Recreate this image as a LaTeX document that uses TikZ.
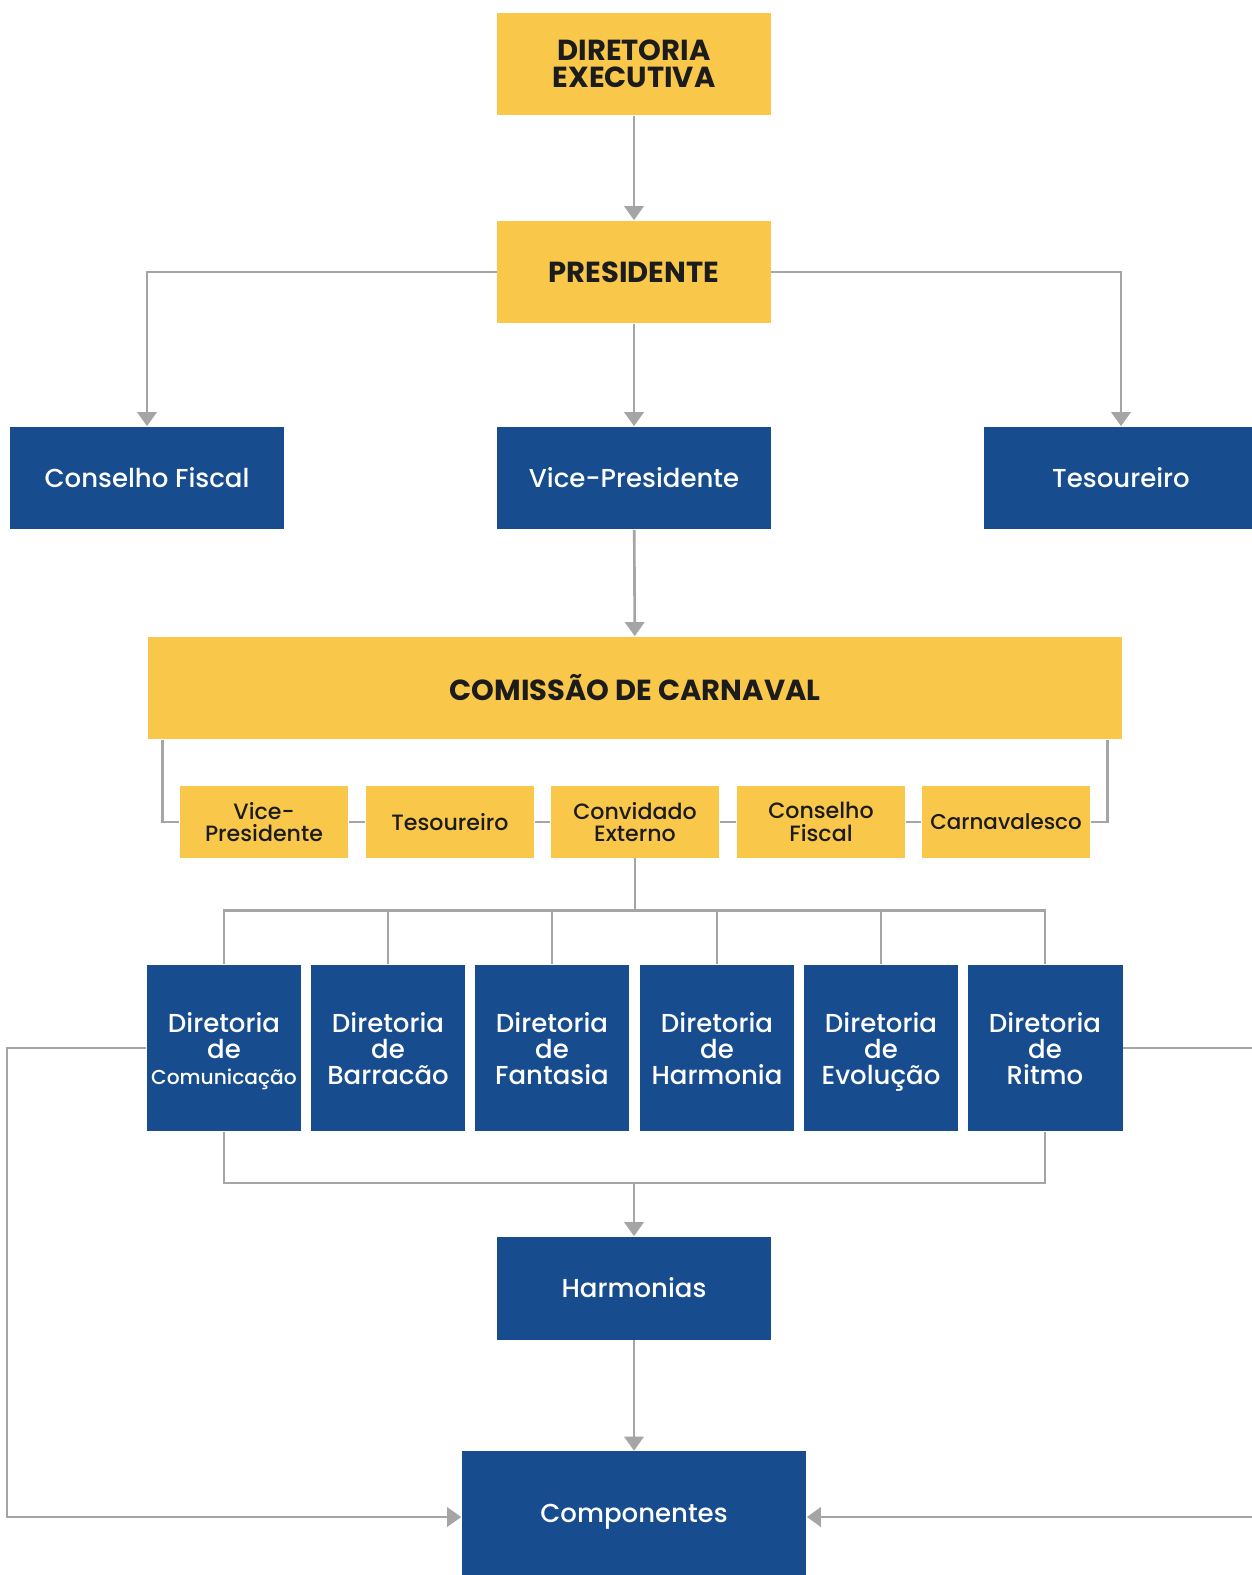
\documentclass[tikz,border=0pt]{standalone}
\usepackage{fontspec}
\setmainfont{Poppins}
\newfontfamily\popmedio{Poppins Medium}
\usetikzlibrary{arrows.meta}
\definecolor{amarelo}{RGB}{249,200,75}
\definecolor{azul}{RGB}{23,76,143}
\definecolor{linha}{RGB}{165,165,165}
\definecolor{texto}{RGB}{28,28,28}
\newcommand{\linhasjuntas}{\lineskiplimit=-20pt\relax}
\begin{document}
\begin{tikzpicture}[x=0.02cm,y=-0.02cm,
    conector/.style={draw=linha,line width=1.5pt},
    seta/.style={conector,-{Triangle[width=11pt,length=8pt]}},
    titulo/.style={fill=amarelo,text=texto,inner sep=0pt,align=center,
        minimum width=5.48cm,minimum height=2.06cm,
        font=\bfseries\fontsize{16.5}{15.5}\selectfont\linhasjuntas},
    cargo/.style={fill=azul,text=white,inner sep=0pt,align=center,
        minimum width=5.48cm,minimum height=2.06cm,
        font=\popmedio\fontsize{14.8}{15}\selectfont},
    membro/.style={fill=amarelo,text=texto,inner sep=0pt,align=center,
        minimum width=3.38cm,minimum height=1.44cm,
        font=\popmedio\fontsize{12.6}{13}\selectfont\linhasjuntas},
    diretoria/.style={fill=azul,text=white,inner sep=0pt,align=center,
        minimum width=3.1cm,minimum height=3.34cm,
        text height=42pt,text depth=0pt,
        font=\popmedio\fontsize{14.8}{15}\selectfont\linhasjuntas}]
    \useasboundingbox[fill=white] (0,0) rectangle (1251,1575);

    % topo
    \node[titulo] (dexec) at (634,64) {DIRETORIA\\EXECUTIVA};
    \node[titulo] (pres) at (634,272) {PRESIDENTE};
    \node[cargo] (cfiscal) at (147,478) {Conselho Fiscal};
    \node[cargo] (vicepres) at (634,478) {Vice-Presidente};
    \node[cargo] (tesou) at (1121,478) {Tesoureiro};
    \node[titulo,minimum width=19.5cm] (comissao) at (635,688) {COMISSÃO DE CARNAVAL};

    % membros da comissao
    \node[membro] (mvice) at (264,822) {Vice-\\Presidente};
    \node[membro] (mtesou) at (450,822) {Tesoureiro};
    \node[membro] (mconv) at (635,822) {Convidado\\Externo};
    \node[membro] (mcons) at (821,822) {Conselho\\Fiscal};
    \node[membro] (mcarn) at (1006,822) {{\fontsize{12.2}{13}\selectfont Carnavalesco}};

    % diretorias
    \node[diretoria] (dcom) at (224,1048) {Diretoria\\de\\{\fontsize{11.5}{15}\selectfont Comunicação}};
    \node[diretoria] (dbar) at (388,1048) {Diretoria\\de\\Barracão};
    \node[diretoria] (dfan) at (552,1048) {Diretoria\\de\\Fantasia};
    \node[diretoria] (dhar) at (717,1048) {Diretoria\\de\\Harmonia};
    \node[diretoria] (devo) at (881,1048) {Diretoria\\de\\Evolução};
    \node[diretoria] (drit) at (1045,1048) {Diretoria\\de\\Ritmo};

    \node[cargo] (harm) at (634,1288) {Harmonias};
    \node[cargo,minimum width=6.9cm,minimum height=2.64cm] (comp) at (634,1517) {Componentes};

    % ligacoes
    \draw[seta] (dexec) -- (pres);
    \draw[seta] (pres.west) -| (cfiscal);
    \draw[seta] (pres.east) -| (tesou);
    \draw[seta] (pres) -- (vicepres);
    \draw[seta] (vicepres) -- (comissao);

    \draw[conector] (comissao.south west) ++(15,0) |- (mvice.west);
    \draw[conector] (comissao.south east) ++(-15,0) |- (mcarn.east);
    \draw[conector] (mvice) -- (mtesou) -- (mconv) -- (mcons) -- (mcarn);

    \draw[conector] (mconv.south) -- ++(0,52) coordinate (junta);
    \foreach \d in {dcom,dbar,dfan,dhar,devo,drit}
        \draw[conector] (junta) -| (\d.north);

    \coordinate (baixo) at (634,1183);
    \draw[conector] (dcom.south) |- (baixo) -| (drit.south);
    \draw[seta] (baixo) -- (harm);
    \draw[seta] (harm) -- (comp);

    \draw[seta] (dcom.west) -- ++(-139,0) |- (comp.west);
    \draw[seta] (drit.east) -- ++(150,0) |- (comp.east);
\end{tikzpicture}
\end{document}
